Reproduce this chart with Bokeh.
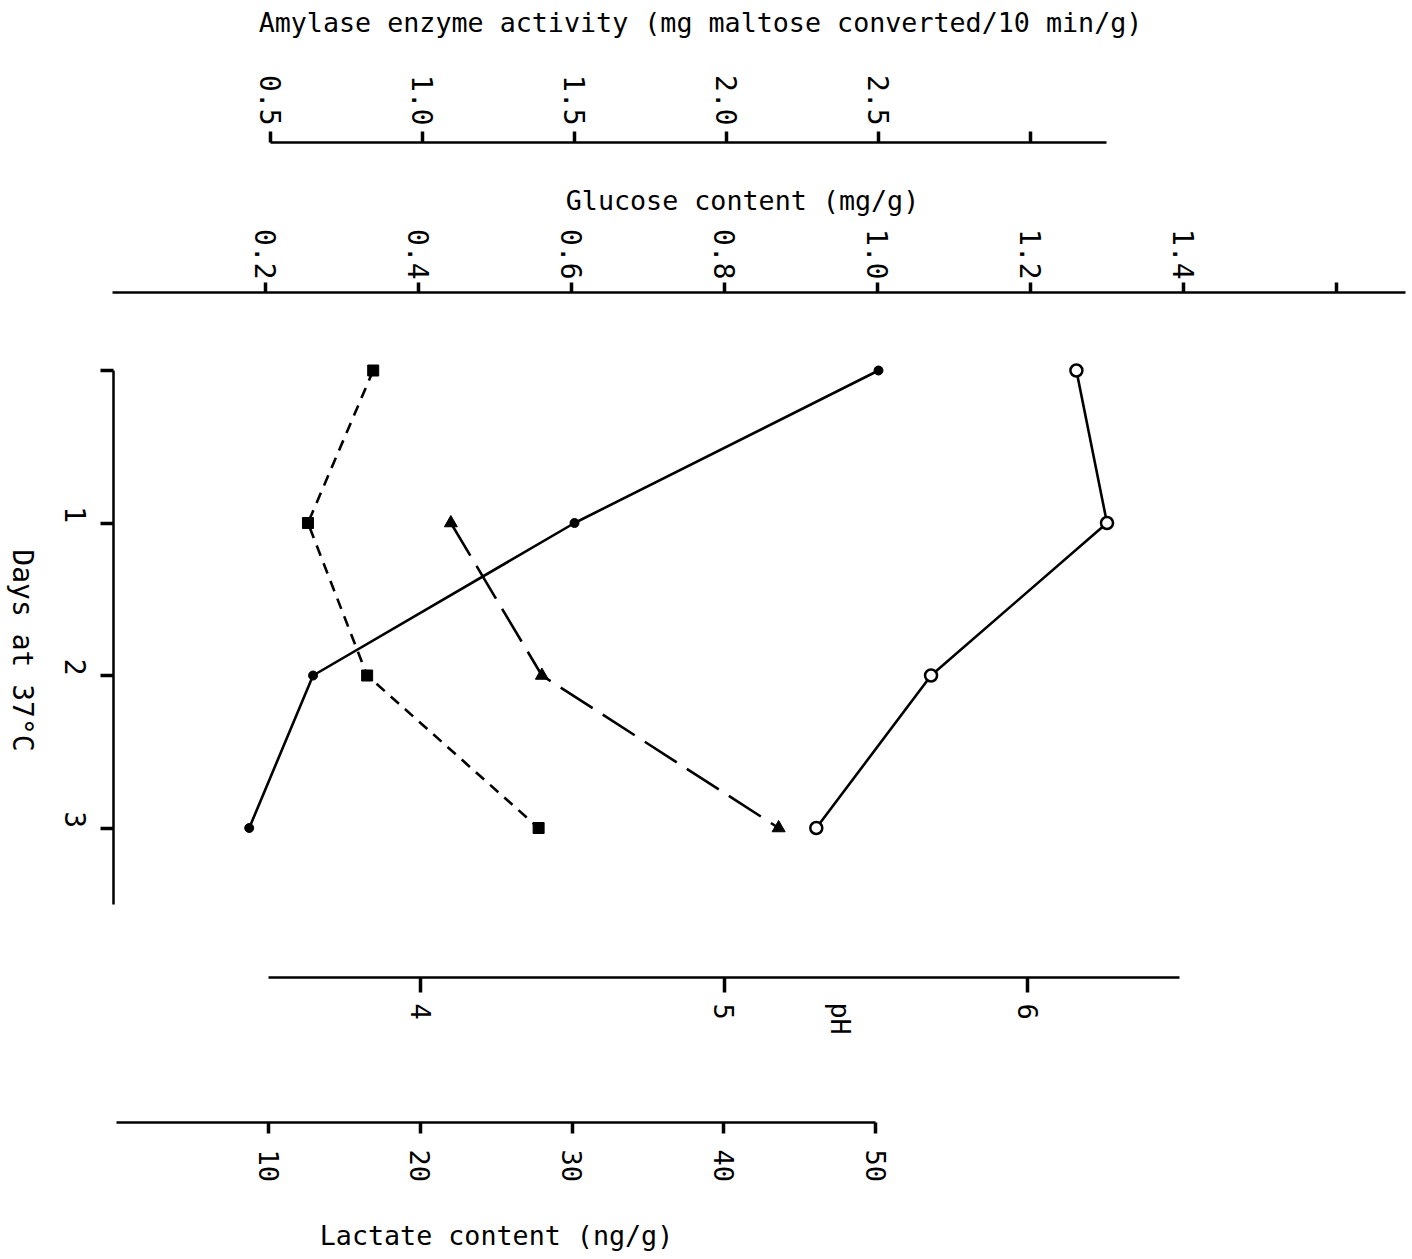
import math
from bokeh.plotting import figure
from bokeh.models import (Range1d, LinearAxis, FixedTicker, Label,
                          PrintfTickFormatter)
from bokeh.embed import file_html
from bokeh.resources import INLINE

# ---------------- data ----------------
days = [0, 1, 2, 3]
amylase = [2.50, 1.50, 0.64, 0.43]      # solid line, filled dots
glucose = [1.26, 1.30, 1.07, 0.92]      # solid line, open circles
lactate_days = [0, 1, 2, 3]
lactate = [16.9, 12.6, 16.5, 27.8]      # short dashes, squares
ph_days = [1, 2, 3]
ph = [4.10, 4.40, 5.18]                 # long dashes, triangles

amylase_ticks = [0.5, 1.0, 1.5, 2.0, 2.5]
amylase_extra_ticks = [3.0]
glucose_ticks = [0.2, 0.4, 0.6, 0.8, 1.0, 1.2, 1.4]
glucose_extra_ticks = [1.6]
ph_ticks = [4, 5, 6]
lactate_ticks = [10, 20, 30, 40, 50]
day_ticks = [1, 2, 3]
day_extra_ticks = [0]

# ---------------- layout ----------------
W, H = 1412, 1259
FONT = "DejaVu Sans Mono"


def span(v0, p0, v1, p1, size):
    k = (v1 - v0) / (p1 - p0)
    return v0 - p0 * k, v0 + (size - p0) * k


p = figure(width=W, height=H, output_backend="svg", toolbar_location=None,
           x_range=Range1d(0, W), y_range=Range1d(H, 0),
           x_axis_type=None, y_axis_type=None, min_border=0)
p.outline_line_color = None
p.background_fill_color = "white"
p.border_fill_color = "white"

a0, a1 = span(0.5, 270, 2.5, 878, W)
g0, g1 = span(0.2, 265, 1.4, 1183, W)
h0, h1 = span(4, 420, 6, 1027, W)
l0, l1 = span(10, 268, 50, 875, W)
d_top, d_bot = span(0, 370, 3, 827.5, H)
p.extra_x_ranges = {
    "amy": Range1d(a0, a1),
    "glu": Range1d(g0, g1),
    "ph": Range1d(h0, h1),
    "lac": Range1d(l0, l1),
}
p.extra_y_ranges = {"days": Range1d(d_bot, d_top)}


def style(ax, standoff, tick=10, size="27px"):
    ax.axis_line_color = "black"
    ax.axis_line_width = 2.5
    ax.major_tick_line_color = "black"
    ax.major_tick_line_width = 3.5
    ax.major_tick_out = tick
    ax.major_tick_in = 0
    ax.minor_tick_line_color = "black"
    ax.minor_tick_line_width = 3.5
    ax.minor_tick_out = tick
    ax.minor_tick_in = 0
    ax.major_label_text_font = FONT
    ax.major_label_text_font_size = size
    ax.major_label_text_color = "black"
    ax.major_label_orientation = -math.pi / 2
    ax.major_label_standoff = standoff


amy_axis = LinearAxis(x_range_name="amy",
                      ticker=FixedTicker(ticks=amylase_ticks, minor_ticks=amylase_extra_ticks),
                      formatter=PrintfTickFormatter(format="%.1f"),
                      bounds=(0.5, 3.25), fixed_location=142)
style(amy_axis, 6, 11, "28px")
p.add_layout(amy_axis, "above")

glu_axis = LinearAxis(x_range_name="glu",
                      ticker=FixedTicker(ticks=glucose_ticks, minor_ticks=glucose_extra_ticks),
                      formatter=PrintfTickFormatter(format="%.1f"),
                      bounds=(0.0, 1.69), fixed_location=292)
style(glu_axis, 3, 10, "28px")
p.add_layout(glu_axis, "above")

ph_axis = LinearAxis(x_range_name="ph", ticker=FixedTicker(ticks=ph_ticks),
                     formatter=PrintfTickFormatter(format="%d"),
                     bounds=(3.5, 6.5), fixed_location=977)
style(ph_axis, 11, 15)
p.add_layout(ph_axis, "below")

lac_axis = LinearAxis(x_range_name="lac", ticker=FixedTicker(ticks=lactate_ticks),
                      formatter=PrintfTickFormatter(format="%d"),
                      bounds=(0, 50), fixed_location=1122)
style(lac_axis, 16, 11)
p.add_layout(lac_axis, "below")

day_axis = LinearAxis(y_range_name="days",
                      ticker=FixedTicker(ticks=day_ticks, minor_ticks=day_extra_ticks),
                      formatter=PrintfTickFormatter(format="%d"),
                      bounds=(0, 3.5), fixed_location=113)
style(day_axis, 25, 13, "28px")
p.add_layout(day_axis, "left")

# ---------------- series ----------------
p.line(x=amylase, y=days, x_range_name="amy", y_range_name="days",
       line_color="black", line_width=2.6)
p.scatter(x=amylase, y=days, x_range_name="amy", y_range_name="days",
          marker="circle", size=9, fill_color="black", line_color="black")

p.line(x=glucose, y=days, x_range_name="glu", y_range_name="days",
       line_color="black", line_width=2.6)
p.scatter(x=glucose, y=days, x_range_name="glu", y_range_name="days",
          marker="circle", size=12, fill_color="white", line_color="black",
          line_width=2.5)

p.line(x=lactate, y=lactate_days, x_range_name="lac", y_range_name="days",
       line_color="black", line_width=2.6, line_dash="11 8")
p.scatter(x=lactate, y=lactate_days, x_range_name="lac", y_range_name="days",
          marker="square", size=11, fill_color="black", line_color="black")

p.line(x=ph, y=ph_days, x_range_name="ph", y_range_name="days",
       line_color="black", line_width=2.6, line_dash="38 12")
p.scatter(x=ph, y=ph_days, x_range_name="ph", y_range_name="days",
          marker="triangle", size=13, fill_color="black", line_color="black")

# ---------------- axis titles ----------------
def title(x, y, text, angle=0.0, size="26.7px"):
    p.add_layout(Label(x=x, y=y, text=text, angle=angle,
                       text_align="center", text_baseline="middle",
                       text_font=FONT, text_font_size=size,
                       text_color="black"))


title(700, 22, "Amylase enzyme activity (mg maltose converted/10 min/g)")
title(742, 200, "Glucose content (mg/g)")
title(496, 1235, "Lactate content (ng/g)")
title(22, 650, "Days at 37°C", -math.pi / 2, "28px")
title(840, 1018, "pH", -math.pi / 2)

open("out.html", "w").write(file_html(p, INLINE))
